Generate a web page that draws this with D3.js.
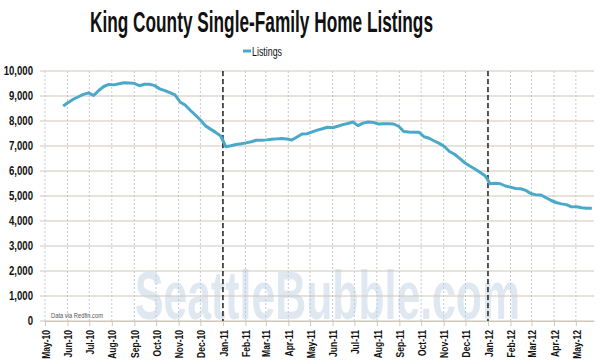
<!DOCTYPE html>
<html>
<head>
<meta charset="utf-8">
<script src="https://cdn.jsdelivr.net/npm/d3@7"></script>
<style>
  body { margin: 0; background: #fff; }
</style>
</head>
<body>
<script>
// Data (weekly)
const firstWeek = "2010-05-26";
const listings = [
  8600, 8740, 8870, 8970, 9065, 9125, 9020, 9220, 9380, 9465,
  9445, 9490, 9530, 9520, 9505, 9410, 9470, 9470, 9415, 9285,
  9215, 9135, 9045, 8760, 8640, 8430, 8240, 8040, 7805, 7675,
  7545, 7400, 6970, 7010, 7060, 7090, 7125, 7170, 7230, 7230,
  7245, 7270, 7285, 7300, 7280, 7240, 7360, 7480, 7490, 7565,
  7635, 7690, 7750, 7730, 7790, 7855, 7900, 7960, 7815, 7915,
  7960, 7945, 7880, 7890, 7890, 7880, 7790, 7580, 7560, 7550,
  7550, 7370, 7310, 7200, 7105, 6980, 6780, 6670, 6505, 6330,
  6200, 6080, 5950, 5810, 5490, 5510, 5490, 5400, 5355, 5300,
  5290, 5225, 5100, 5045, 5040, 4930, 4820, 4740, 4685, 4655,
  4565, 4570, 4530, 4510, 4510
];
const yTicks = [0, 1000, 2000, 3000, 4000, 5000, 6000, 7000, 8000, 9000, 10000];
const markerDates = ["2011-01-01", "2012-01-01"];
const xStart = "2010-05-01", xEnd = "2012-05-26";

// Constants
const width = 600, height = 363;
const margin = {top: 71, right: 6, bottom: 42, left: 45};
const font = "Liberation Sans, Arial, sans-serif";
const squeeze = 0.74;   // fake a condensed face
const parse = d3.timeParse("%Y-%m-%d");

const start = parse(firstWeek);
const data = listings.map((v, i) => ({date: d3.timeDay.offset(start, i * 7), value: v}));

const svg = d3.select("body").append("svg")
    .attr("width", width)
    .attr("height", height)
    .attr("font-family", font);

const x = d3.scaleTime()
    .domain([parse(xStart), parse(xEnd)])
    .range([margin.left, width - margin.right]);

const y = d3.scaleLinear()
    .domain([0, 10000])
    .range([height - margin.bottom, margin.top]);

// watermark
svg.append("text")
    .attr("x", 135)
    .attr("y", 319)
    .attr("textLength", 385)
    .attr("lengthAdjust", "spacingAndGlyphs")
    .attr("font-size", 68)
    .attr("font-weight", "bold")
    .attr("fill", "#dfe8f1")
    .text("SeattleBubble.com");

// month grid (dotted)
const months = d3.timeMonth.range(parse("2010-05-01"), parse("2012-05-02"));
svg.append("g").selectAll("line")
    .data(months)
    .enter().append("line")
    .attr("x1", d => x(d)).attr("x2", d => x(d))
    .attr("y1", y(10000)).attr("y2", y(0))
    .attr("stroke", "#bccbd8")
    .attr("stroke-width", 1)
    .attr("stroke-dasharray", "2,2");

// horizontal grid
svg.append("g").selectAll("line")
    .data(yTicks)
    .enter().append("line")
    .attr("x1", margin.left - 5).attr("x2", width - margin.right)
    .attr("y1", d => y(d)).attr("y2", d => y(d))
    .attr("stroke", "#cfc6b8")
    .attr("stroke-width", 1.2);

// y labels
svg.append("g").selectAll("text")
    .data(yTicks)
    .enter().append("text")
    .attr("transform", d => `translate(33,${y(d)}) scale(0.8,1)`)
    .attr("dy", "0.36em")
    .attr("text-anchor", "end")
    .attr("font-size", 12)
    .attr("font-weight", "bold")
    .attr("fill", "#111")
    .text(d3.format(","));

// x axis
const xAxis = svg.append("g")
    .attr("transform", `translate(0,${y(0)})`)
    .call(d3.axisBottom(x).tickValues(months).tickFormat(d3.timeFormat("%b-%y")).tickSize(5).tickSizeOuter(0));
xAxis.select(".domain").attr("stroke", "#cfc6b8").attr("stroke-width", 1.2);
xAxis.selectAll(".tick line").attr("stroke", "#cfc6b8");
xAxis.selectAll(".tick text")
    .attr("transform", `rotate(-90) scale(${squeeze},1)`)
    .attr("text-anchor", "end")
    .attr("x", -9 / squeeze)
    .attr("y", 0)
    .attr("dy", "0.36em")
    .attr("font-family", font)
    .attr("font-size", 11.5)
    .attr("font-weight", "bold")
    .attr("fill", "#111");

// year markers
svg.append("g").selectAll("line")
    .data(markerDates)
    .enter().append("line")
    .attr("x1", d => x(parse(d))).attr("x2", d => x(parse(d)))
    .attr("y1", y(10000)).attr("y2", y(0))
    .attr("stroke", "#222")
    .attr("stroke-width", 1.5)
    .attr("stroke-dasharray", "5,3");

// the line
const line = d3.line()
    .x(d => x(d.date))
    .y(d => y(d.value));

svg.append("path")
    .datum(data)
    .attr("d", line)
    .attr("fill", "none")
    .attr("stroke", "#4aa8c8")
    .attr("stroke-width", 3)
    .attr("stroke-linejoin", "round");

// source note
svg.append("text")
    .attr("x", 51)
    .attr("y", 318)
    .attr("textLength", 52)
    .attr("lengthAdjust", "spacingAndGlyphs")
    .attr("font-size", 7)
    .attr("fill", "#555")
    .text("Data via Redfin.com");

// title
svg.append("text")
    .attr("x", 90)
    .attr("y", 32)
    .attr("textLength", 343)
    .attr("lengthAdjust", "spacingAndGlyphs")
    .attr("font-size", 29)
    .attr("font-weight", "bold")
    .attr("fill", "#111")
    .text("King County Single-Family Home Listings");

// legend
const legend = svg.append("g");
legend.append("line")
    .attr("x1", 243).attr("x2", 251)
    .attr("y1", 51).attr("y2", 51)
    .attr("stroke", "#4aa8c8")
    .attr("stroke-width", 3);
legend.append("text")
    .attr("x", 252)
    .attr("y", 55.5)
    .attr("textLength", 30)
    .attr("lengthAdjust", "spacingAndGlyphs")
    .attr("font-size", 12.5)
    .attr("fill", "#111")
    .text("Listings");
</script>
</body>
</html>
